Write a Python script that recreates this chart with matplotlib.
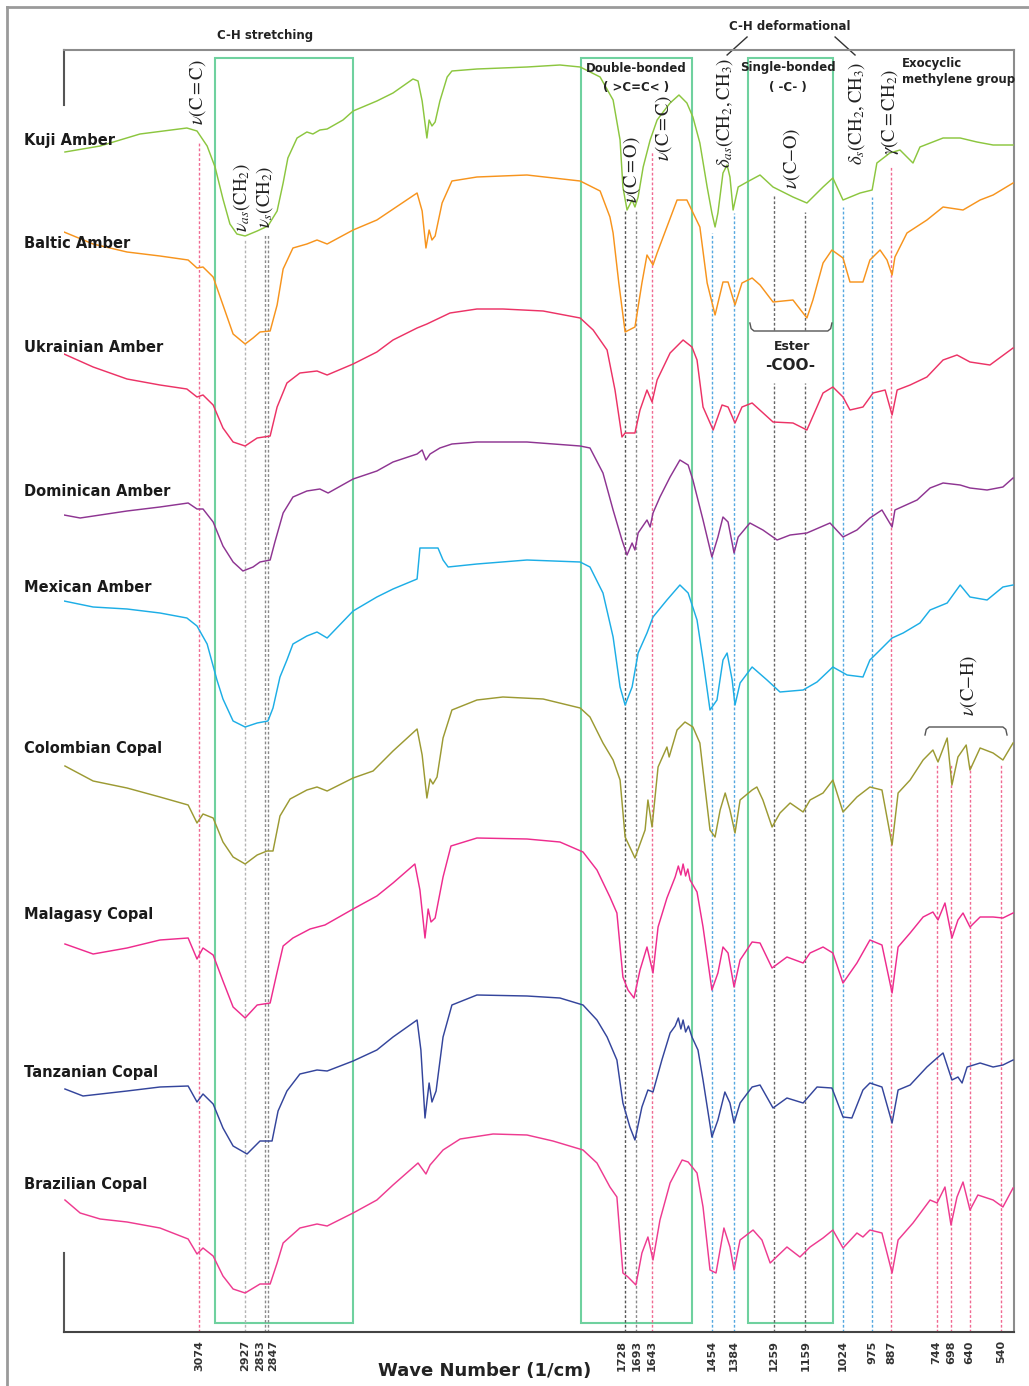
import matplotlib
matplotlib.use("Agg")
import matplotlib.pyplot as plt
import matplotlib.transforms as mtransforms
from matplotlib.lines import Line2D
from matplotlib.patches import Rectangle

plt.rcParams["mathtext.fontset"] = "stix"

# FTIR spectra: (wave number 1/cm, stacked transmittance a.u.)
kuji = [(3497,1180),(3386,1186),(3260,1198),(3112,1204),(3080,1201),(3048,1186),(3023,1165),(2998,1133),(2976,1108),(2954,1098),(2928,1096),(2890,1101),(2856,1106),(2827,1121),(2808,1149),(2793,1174),(2764,1194),(2733,1200),(2714,1198),(2692,1202),(2669,1203),(2619,1212),(2587,1221),(2512,1231),(2461,1239),(2398,1253),(2382,1251),(2369,1231),(2354,1194),(2347,1212),(2338,1206),(2328,1210),(2313,1231),(2290,1255),(2275,1261),(2196,1263),(2038,1265),(1934,1267),(1870,1265),(1807,1255),(1766,1232),(1744,1192),(1735,1145),(1722,1122),(1706,1132),(1697,1125),(1687,1135),(1671,1165),(1649,1192),(1627,1212),(1608,1220),(1586,1229),(1558,1237),(1533,1229),(1514,1215),(1492,1189),(1469,1145),(1454,1119),(1444,1105),(1435,1119),(1419,1159),(1406,1167),(1397,1155),(1387,1122),(1371,1145),(1343,1150),(1302,1157),(1261,1145),(1198,1135),(1154,1129),(1103,1145),(1072,1154),(1040,1132),(986,1139),(948,1142),(933,1169),(892,1179),(860,1182),(838,1175),(819,1169),(797,1185),(724,1194),(670,1194),(617,1190),(566,1187),(503,1187)]
baltic = [(3500,1100),(3408,1088),(3301,1080),(3197,1076),(3108,1072),(3080,1064),(3061,1065),(3029,1055),(2998,1027),(2966,998),(2928,988),(2903,994),(2881,1000),(2849,1001),(2827,1027),(2808,1063),(2777,1084),(2733,1088),(2701,1092),(2669,1088),(2587,1102),(2512,1112),(2385,1139),(2369,1121),(2357,1084),(2347,1102),(2338,1092),(2328,1096),(2306,1129),(2275,1151),(2196,1155),(2038,1157),(1870,1151),(1807,1141),(1776,1115),(1766,1099),(1748,1049),(1728,1000),(1697,1005),(1675,1049),(1659,1077),(1640,1067),(1627,1079),(1564,1132),(1533,1132),(1492,1105),(1469,1049),(1444,1017),(1419,1050),(1403,1050),(1381,1027),(1359,1049),(1327,1054),(1302,1047),(1261,1030),(1198,1032),(1154,1014),(1135,1032),(1103,1069),(1075,1082),(1040,1074),(1018,1050),(977,1050),(955,1072),(923,1082),(901,1072),(885,1057),(876,1075),(838,1099),(775,1112),(724,1125),(661,1122),(607,1132),(566,1137),(503,1149)]
ukrainian = [(3500,978),(3408,965),(3301,953),(3197,947),(3112,943),(3080,935),(3061,937),(3029,927),(2998,904),(2966,890),(2928,886),(2890,894),(2849,896),(2827,925),(2796,949),(2755,959),(2701,961),(2669,957),(2587,968),(2512,980),(2461,992),(2385,1004),(2354,1008),(2281,1019),(2196,1023),(2114,1023),(1987,1021),(1870,1014),(1829,1002),(1785,982),(1760,942),(1738,895),(1728,899),(1697,899),(1681,922),(1659,942),(1643,930),(1627,952),(1586,979),(1545,992),(1517,985),(1501,972),(1482,925),(1450,902),(1422,927),(1403,925),(1381,909),(1359,925),(1327,929),(1261,910),(1198,909),(1154,902),(1103,939),(1072,945),(1040,935),(1018,922),(977,925),(945,939),(907,942),(885,917),(869,942),(828,947),(775,955),(724,972),(680,977),(639,970),(576,967),(503,984)]
dominican = [(3500,817),(3449,814),(3301,821),(3197,825),(3108,829),(3080,823),(3061,823),(3029,810),(2998,786),(2966,770),(2935,761),(2903,765),(2881,770),(2849,772),(2834,790),(2808,819),(2777,835),(2733,841),(2692,843),(2666,839),(2587,853),(2512,861),(2461,870),(2385,878),(2369,882),(2357,872),(2344,878),(2313,884),(2275,888),(2196,890),(2038,890),(1870,886),(1839,884),(1798,859),(1766,822),(1738,792),(1722,777),(1706,789),(1697,782),(1687,799),(1659,812),(1649,805),(1640,819),(1618,835),(1586,855),(1555,872),(1529,867),(1514,852),(1482,812),(1454,775),(1435,795),(1419,815),(1403,810),(1384,779),(1371,795),(1334,809),(1293,802),(1248,792),(1207,797),(1154,799),(1081,809),(1040,795),(996,802),(955,814),(917,822),(885,805),(876,822),(806,832),(765,844),(724,849),(670,847),(639,844),(585,842),(535,845),(503,854)]
mexican = [(3500,731),(3408,725),(3301,723),(3197,719),(3112,714),(3080,706),(3048,688),(3017,652),(2998,633),(2966,611),(2928,605),(2890,609),(2856,611),(2840,624),(2818,655),(2796,672),(2777,688),(2733,696),(2701,700),(2669,694),(2587,721),(2512,735),(2461,743),(2385,753),(2376,784),(2319,784),(2303,772),(2287,765),(2196,768),(2038,772),(1870,770),(1839,765),(1798,739),(1766,695),(1744,645),(1728,627),(1706,645),(1687,679),(1659,699),(1640,715),(1596,732),(1555,747),(1529,739),(1501,712),(1482,672),(1460,622),(1438,632),(1419,672),(1406,679),(1390,652),(1381,627),(1365,649),(1327,665),(1280,652),(1239,640),(1166,642),(1122,650),(1072,665),(1027,657),(977,655),(955,672),(923,682),(885,694),(850,699),(797,709),(765,722),(711,729),(670,747),(639,735),(585,732),(535,745),(503,747)]
colombian = [(3497,566),(3408,551),(3301,544),(3197,535),(3108,527),(3080,509),(3061,518),(3029,514),(2998,490),(2966,475),(2928,468),(2890,477),(2859,481),(2840,481),(2818,516),(2786,533),(2733,542),(2701,545),(2669,541),(2587,554),(2524,561),(2461,581),(2385,603),(2369,577),(2354,534),(2344,553),(2335,548),(2322,555),(2303,594),(2275,622),(2196,632),(2114,635),(1987,633),(1870,624),(1839,615),(1798,589),(1766,572),(1744,552),(1728,495),(1697,474),(1665,502),(1656,532),(1643,505),(1624,565),(1596,585),(1589,575),(1564,602),(1539,610),(1514,605),(1492,589),(1476,545),(1460,502),(1444,495),(1428,522),(1412,539),(1397,522),(1381,499),(1365,532),(1327,542),(1312,545),(1293,532),(1264,505),(1239,519),(1207,529),(1166,520),(1144,532),(1103,539),(1072,552),(1040,520),(996,535),(955,545),(917,542),(885,487),(866,539),(828,552),(787,572),(756,582),(740,570),(711,594),(696,547),(677,575),(651,587),(639,562),(607,584),(566,579),(535,572),(503,589)]
malagasy = [(3497,388),(3408,378),(3301,384),(3197,392),(3108,394),(3080,373),(3061,384),(3029,377),(2998,351),(2966,325),(2928,314),(2890,327),(2849,329),(2827,360),(2808,386),(2777,394),(2723,403),(2676,407),(2587,423),(2512,436),(2461,449),(2392,468),(2376,442),(2360,394),(2350,423),(2341,410),(2328,414),(2303,455),(2278,486),(2196,494),(2038,493),(1934,490),(1861,480),(1817,462),(1776,435),(1754,419),(1735,355),(1719,342),(1700,334),(1681,362),(1659,385),(1640,359),(1624,405),(1596,434),(1570,455),(1560,466),(1552,457),(1545,468),(1537,456),(1530,463),(1523,452),(1501,440),(1482,405),(1454,342),(1435,359),(1419,385),(1403,379),(1384,345),(1365,372),(1327,390),(1302,389),(1264,364),(1217,375),(1166,369),(1144,379),(1103,385),(1072,379),(1040,349),(996,369),(955,392),(917,387),(885,339),(866,385),(828,399),(787,415),(756,420),(740,412),(718,429),(696,394),(677,412),(661,419),(639,405),(607,415),(566,415),(535,414),(503,419)]
tanzanian = [(3497,243),(3440,236),(3301,241),(3197,245),(3108,246),(3080,230),(3061,238),(3029,228),(2998,204),(2966,186),(2922,178),(2881,191),(2843,191),(2824,221),(2796,241),(2755,258),(2701,262),(2669,261),(2587,271),(2512,282),(2461,295),(2385,312),(2373,282),(2360,214),(2347,249),(2338,230),(2325,241),(2303,295),(2275,327),(2196,337),(2038,336),(1934,334),(1861,327),(1817,312),(1785,295),(1754,272),(1735,229),(1713,205),(1697,192),(1675,225),(1656,242),(1640,240),(1612,272),(1586,299),(1570,306),(1560,314),(1552,303),(1545,312),(1537,300),(1528,306),(1517,295),(1498,282),(1482,252),(1454,195),(1435,212),(1413,240),(1397,229),(1384,209),(1365,229),(1327,245),(1302,247),(1261,224),(1217,234),(1166,229),(1122,245),(1075,244),(1040,215),(1012,214),(977,242),(955,249),(917,245),(885,209),(866,242),(828,247),(775,265),(743,274),(724,279),(696,252),(677,255),(664,249),(648,265),(607,269),(566,265),(535,267),(503,272)]
brazilian = [(3497,132),(3449,119),(3386,113),(3301,110),(3197,104),(3108,93),(3080,78),(3061,84),(3029,76),(2998,56),(2966,43),(2928,39),(2881,48),(2849,48),(2827,69),(2808,89),(2755,104),(2701,108),(2669,106),(2587,119),(2512,132),(2461,147),(2382,169),(2366,162),(2357,158),(2344,167),(2303,182),(2249,193),(2145,198),(2038,197),(1956,191),(1861,182),(1817,169),(1776,145),(1754,135),(1735,59),(1719,55),(1694,47),(1675,79),(1656,95),(1640,72),(1618,112),(1586,149),(1548,172),(1529,170),(1501,159),(1482,125),(1460,62),(1441,59),(1416,104),(1397,85),(1384,62),(1365,92),(1324,102),(1296,92),(1270,69),(1217,85),(1176,75),(1144,85),(1103,94),(1072,102),(1040,84),(996,99),(977,95),(955,102),(917,99),(885,59),(866,92),(819,109),(765,132),(743,129),(718,145),(699,107),(680,135),(661,150),(639,122),(614,137),(566,132),(535,125),(503,144)]

spectra = [kuji, baltic, ukrainian, dominican, mexican, colombian, malagasy, tanzanian, brazilian]
samples = ["Kuji Amber", "Baltic Amber", "Ukrainian Amber", "Dominican Amber", "Mexican Amber",
           "Colombian Copal", "Malagasy Copal", "Tanzanian Copal", "Brazilian Copal"]
label_level = [1192, 1089, 985, 841, 744, 584, 417, 259, 147]
colors = ["#8cc63f", "#f7941d", "#ec3366", "#8e3592", "#1daee6",
          "#9c9a33", "#ee2c8e", "#34459c", "#ee3b90"]

# marked absorption bands
band_pos = [3074, 2927, 2865, 2855, 1728, 1693, 1643, 1454, 1384, 1259, 1159, 1040, 948, 887, 744, 698, 640, 540]
band_labels = ["3074", "2927", "2853", "2847", "1728", "1693", "1643", "1454", "1384",
               "1259", "1159", "1024", "975", "887", "744", "698", "640", "540"]
band_top = [1189, 1092, 1097, 1097, 1122, 1122, 1180, 1099, 1119, 1137, 1120, 1125, 1135, 1165, 567, 567, 567, 567]
band_kind = ["ene", "ch", "ch2", "ch2", "co", "co2", "ene", "def", "def",
             "ester", "ester", "def", "def", "ene", "ene", "ene", "ene", "ene"]
kind_color = {"ene": "#f06a92", "ch": "#b4b4b4", "ch2": "#8a8a8a", "co": "#555555",
              "co2": "#8a8a8a", "def": "#55a8e0", "ester": "#666666"}

# highlighted regions (wave number from, to)
regions = [(3023, 2587), (1867, 1517), (1340, 1072)]

fig = plt.figure(figsize=(10.29, 13.86), dpi=100)
ax = fig.add_axes([64/1029, 54/1386, 950/1029, 1282/1386])
ax.set_xlim(3500, 500)
ax.set_ylim(0, 1282)

for x0, x1 in regions:
    ax.add_patch(Rectangle((x1, 9), x0 - x1, 1265, fill=False, ec="#6fd19f", lw=1.5, zorder=1))

for p, top, kind in zip(band_pos, band_top, band_kind):
    segs = [(0, top)] if kind != "ester" else [(0, 949), (1002, top)]
    for lo, hi in segs:
        ax.plot([p, p], [lo, hi], color=kind_color[kind], lw=1.0, ls=(0, (2, 1.5)), zorder=2)

for spec, c in zip(spectra, colors):
    wn = [p[0] for p in spec]
    t = [p[1] for p in spec]
    ax.plot(wn, t, color=c, lw=1.05, zorder=3)

trans = mtransforms.blended_transform_factory(fig.transFigure, ax.transData)
for name, lv in zip(samples, label_level):
    ax.text(24/1029, lv, name, transform=trans, ha="left", va="center",
            fontsize=10.5, fontweight="bold", color="#1a1a1a", zorder=5)

# band assignments
assign = [(3077, 1240, r"$\nu(\mathrm{C{=}C})$"), (2938, 1134, r"$\nu_{as}(\mathrm{CH_2})$"),
          (2868, 1135, r"$\nu_{s}(\mathrm{CH_2})$"), (1709, 1162, r"$\nu(\mathrm{C{=}O})$"),
          (1608, 1204, r"$\nu(\mathrm{C{=}C})$"), (1413, 1219, r"$\delta_{as}(\mathrm{CH_2,CH_3})$"),
          (1201, 1174, r"$\nu(\mathrm{C{-}O})$"), (996, 1219, r"$\delta_{s}(\mathrm{CH_2,CH_3})$"),
          (892, 1220, r"$\gamma(\mathrm{C{=}CH_2})$"), (645, 647, r"$\nu(\mathrm{C{-}H})$")]
for x, y, s in assign:
    ax.text(x, y, s, rotation=90, ha="center", va="center", fontsize=13.5, color="#222222", zorder=5)

def brace(x0, x1, y, h):
    d = (x0 - x1) * 0.05
    xs = [x0, x0 - d * 0.3, x0 - d, x1 + d, x1 + d * 0.3, x1]
    ys = [y + h, y + h * 0.3, y, y, y + h * 0.3, y + h]
    ax.plot(xs, ys, color="#555555", lw=1.0, clip_on=False, zorder=5)

brace(1334, 1075, 1001, 8)
brace(781, 522, 605, -8)
ax.text(1201, 986, "Ester", ha="center", va="center", fontsize=9, fontweight="bold", color="#222")
ax.text(1207, 966, "-COO-", ha="center", va="center", fontsize=11, fontweight="bold", color="#222")

top_kw = dict(ha="center", va="center", fontsize=8.5, fontweight="bold", color="#222")
ax.text(2865, 1297, "C-H stretching", **top_kw)
ax.text(1207, 1305, "C-H deformational", **top_kw)
ax.plot([1343, 1406], [1295, 1277], color="#333", lw=1.0, clip_on=False)
ax.plot([1065, 1002], [1295, 1277], color="#333", lw=1.0, clip_on=False)
ax.text(1694, 1264, "Double-bonded", **top_kw)
ax.text(1694, 1244, "( >C=C< )", **top_kw)
ax.text(1214, 1264, "Single-bonded", **top_kw)
ax.text(1214, 1244, "( -C- )", **top_kw)
ax.text(854, 1269, "Exocyclic", ha="left", va="center", fontsize=8.5, fontweight="bold", color="#222")
ax.text(854, 1252, "methylene group", ha="left", va="center", fontsize=8.5, fontweight="bold", color="#222")

ax.set_xticks(band_pos, labels=band_labels, rotation=90, fontsize=8, fontweight="bold", color="#333")
ax.tick_params(axis="x", length=0, pad=6)
ax.set_yticks([])
# the two close CH2 labels sit side by side, as in the original
shifts = {2: -5, 3: 5, 4: -3}
for i, lab in enumerate(ax.get_xticklabels()):
    if i in shifts:
        lab.set_transform(lab.get_transform() + mtransforms.ScaledTranslation(shifts[i] / 100, 0, fig.dpi_scale_trans))
ax.text(0.443, -0.0304, "Wave Number (1/cm)", transform=ax.transAxes, ha="center", va="center",
        fontsize=13, fontweight="bold", color="#222")

ax.spines["left"].set_visible(False)
for side in ["top", "right"]:
    ax.spines[side].set_color("#8c8c8c")
    ax.spines[side].set_linewidth(1.5)
ax.spines["bottom"].set_color("#444444")
ax.spines["bottom"].set_linewidth(1.5)
ax.plot([3500, 3500], [1227, 1282], color="#555", lw=1.5, clip_on=False)
ax.plot([3500, 3500], [0, 79], color="#555", lw=1.5, clip_on=False)

fig.add_artist(Line2D([7/1029, 1], [1 - 7/1386, 1 - 7/1386], transform=fig.transFigure, color="#9a9a9a", lw=2))
fig.add_artist(Line2D([7/1029, 7/1029], [0, 1 - 7/1386], transform=fig.transFigure, color="#9a9a9a", lw=2))

fig.savefig("out.png", dpi=100)
